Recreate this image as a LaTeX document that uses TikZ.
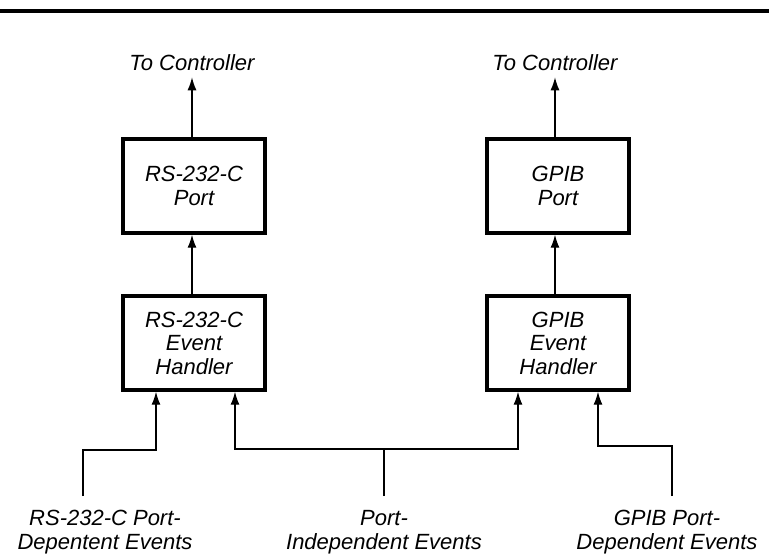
\documentclass[tikz,border=0pt]{standalone}
\usepackage{fontspec}
\setmainfont{Liberation Sans}
\usetikzlibrary{arrows.meta,positioning}

\begin{document}
\begin{tikzpicture}[x=1pt,y=-1pt,
    txt/.style={font=\itshape\fontsize{22}{23.5}\selectfont,align=center},
    box/.style={txt,draw,line width=3.4pt,minimum width=142pt,minimum height=94pt,inner sep=0pt},
    wire/.style={line width=1.3pt},
    arr/.style={wire,-{Latex[length=13pt,width=9pt]}}]
    \useasboundingbox (0,0) rectangle (769,558);
    \draw[line width=3.5pt] (0,11) -- (769,11);

    \node[box] (rsp) at (194,186) {RS-232-C\\Port};
    \node[box] (gpp) at (558,186) {GPIB\\Port};
    \node[box] (rsh) at (194,343) {RS-232-C\\Event\\Handler};
    \node[box] (gph) at (558,343) {GPIB\\Event\\Handler};

    \node[txt,inner sep=6pt] (ctl1) at (192,63) {To Controller};
    \node[txt,inner sep=6pt] (ctl2) at (555,63) {To Controller};

    \node[txt] (rsev) at (105,532) {RS-232-C Port-\\Depentent Events};
    \node[txt] (ind) at (384,532) {Port-\\Independent Events};
    \node[txt] (gpev) at (667,532) {GPIB Port-\\Dependent Events};

    \coordinate (in1) at (83,496);
    \coordinate (in2) at (384,496);
    \coordinate (in3) at (672,496);
    \coordinate (b1) at (156,450);
    \coordinate (b2) at (235,449);
    \coordinate (b3) at (518,449);
    \coordinate (b4) at (598,446);

    \draw[arr] (rsp.north -| ctl1) -- (ctl1);
    \draw[arr] (gpp.north -| ctl2) -- (ctl2);
    \draw[arr] (rsh.north -| ctl1) -- (rsp.south -| ctl1);
    \draw[arr] (gph.north -| ctl2) -- (gpp.south -| ctl2);

    \draw[arr] (in1) |- (b1) -- (b1 |- rsh.south);
    \draw[wire] (in2) -- (in2 |- b2);
    \draw[arr] (b2 -| in2) -- (b2) -- (b2 |- rsh.south);
    \draw[arr] (b3 -| in2) -- (b3) -- (b3 |- gph.south);
    \draw[arr] (in3) |- (b4) -- (b4 |- gph.south);
\end{tikzpicture}
\end{document}
